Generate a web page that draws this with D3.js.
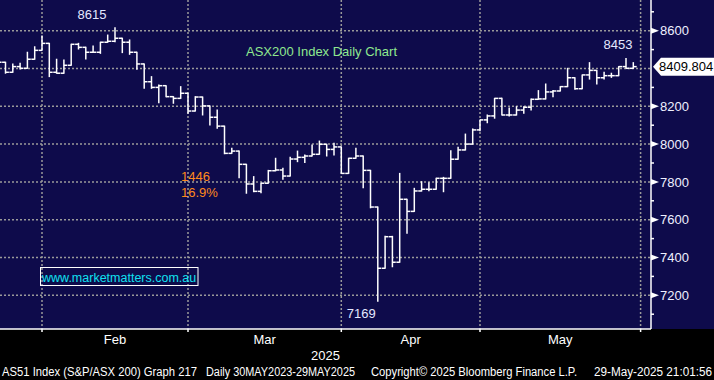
<!DOCTYPE html>
<html><head><meta charset="utf-8">
<script src="https://cdn.jsdelivr.net/npm/d3@7/dist/d3.min.js"></script>
<style>html,body{margin:0;padding:0;background:#000;} svg{display:block}</style>
</head><body><svg id="c" width="714" height="380"></svg>
<script>
// ---- data ----
const dates = ["2025-01-22","2025-01-23","2025-01-24","2025-01-28","2025-01-29","2025-01-30","2025-01-31",
"2025-02-03","2025-02-04","2025-02-05","2025-02-06","2025-02-07","2025-02-10","2025-02-11","2025-02-12","2025-02-13","2025-02-14",
"2025-02-17","2025-02-18","2025-02-19","2025-02-20","2025-02-21","2025-02-24","2025-02-25","2025-02-26","2025-02-27","2025-02-28",
"2025-03-03","2025-03-04","2025-03-05","2025-03-06","2025-03-07","2025-03-10","2025-03-11","2025-03-12","2025-03-13","2025-03-14",
"2025-03-17","2025-03-18","2025-03-19","2025-03-20","2025-03-21","2025-03-24","2025-03-25","2025-03-26","2025-03-27","2025-03-28","2025-03-31",
"2025-04-01","2025-04-02","2025-04-03","2025-04-04","2025-04-07","2025-04-08","2025-04-09","2025-04-10","2025-04-11",
"2025-04-14","2025-04-15","2025-04-16","2025-04-17","2025-04-22","2025-04-23","2025-04-24","2025-04-28","2025-04-29","2025-04-30",
"2025-05-01","2025-05-02","2025-05-05","2025-05-06","2025-05-07","2025-05-08","2025-05-09","2025-05-12","2025-05-13","2025-05-14",
"2025-05-15","2025-05-16","2025-05-19","2025-05-20","2025-05-21","2025-05-22","2025-05-23","2025-05-26","2025-05-27","2025-05-28","2025-05-29"];
const open  = [8433,8433,8380,8410,8401,8449,8496, 8533,8380,8375,8417,8528,8512,8486,8486,8539,8544, 8560,8539,8486,8424,8330,8300,8309,8251,8242,8269,
 8175,8249,8202,8142,8095,7951,7963,7893,7789,7750, 7793,7859,7863,7831,7921,7930,7937,7946,7999,7972,7985,
 7845,7925,7937,7861,7667,7343,7510,7375,7708, 7644,7752,7761,7761,7819,7819,7920,7969,8000,8075,
 8128,8149,8242,8154,8154,8180,8195,8237,8239,8276, 8281,8304,8351,8293,8366,8390,8351,8362,8362,8410,8401];
const high  = [8440,8433,8424,8428,8486,8515,8572, 8533,8449,8445,8528,8533,8512,8519,8539,8577,8615, 8560,8551,8486,8424,8357,8313,8309,8251,8304,8269,
 8251,8249,8202,8180,8095,7978,7963,7893,7828,7793, 7861,7925,7872,7930,7963,7942,7995,8016,7999,8004,7985,
 7925,7978,7937,7861,7667,7512,7512,7845,7708, 7766,7801,7796,7819,7824,7965,7983,8053,8080,8128,
 8154,8242,8242,8191,8198,8198,8239,8283,8318,8283, 8304,8401,8351,8366,8431,8390,8380,8375,8410,8453,8431];
const low   = [8425,8375,8380,8397,8401,8449,8496, 8357,8375,8375,8417,8503,8450,8486,8480,8539,8542, 8484,8475,8396,8295,8295,8219,8251,8216,8242,8163,
 8175,8154,8101,8084,7949,7951,7822,7740,7748,7743, 7793,7859,7814,7831,7907,7902,7937,7946,7937,7942,7845,
 7845,7925,7769,7663,7169,7343,7351,7375,7528, 7644,7752,7753,7761,7748,7819,7920,7969,8000,8071,
 8113,8137,8154,8149,8154,8163,8180,8237,8239,8251, 8281,8304,8290,8293,8344,8318,8344,8353,8362,8401,8401];
const close = [8433,8380,8410,8401,8449,8496,8533, 8380,8375,8417,8528,8512,8486,8486,8539,8544,8560, 8539,8486,8424,8330,8300,8309,8251,8242,8269,8175,
 8249,8202,8142,8095,7951,7963,7893,7789,7750,7793, 7859,7863,7831,7921,7930,7937,7946,7999,7972,7985,7845,
 7925,7937,7861,7667,7343,7510,7375,7708,7644, 7752,7761,7761,7819,7819,7920,7969,8000,8075,8128,
 8149,8242,8154,8154,8180,8195,8237,8239,8276,8281, 8304,8351,8293,8366,8390,8351,8362,8362,8410,8401,8409.804];
const yMajorTicks = [7200,7400,7600,7800,8000,8200,8400,8600];
const yMinorTicks = [7100,7300,7500,7700,7900,8100,8300,8500,8700];
const monthNames = ["Feb","Mar","Apr","May"];
const yearLabel = "2025";
const titleText = "ASX200 Index Daily Chart";
const siteText = "www.marketmatters.com.au";
const pctText = "16.9%";
const footer = ["AS51 Index (S&P/ASX 200) Graph 217","Daily 30MAY2023-29MAY2025","Copyright\u00a9 2025 Bloomberg Finance L.P.","29-May-2025 21:01:56"];

// ---- layout ----
const W = 714, H = 380, plotR = 651, plotB = 329;
const FONT = "'Liberation Sans', Arial, sans-serif";
const svg = d3.select("#c");
const bars = dates.map((d,i)=>({d, i, o:open[i], h:high[i], l:low[i], c:close[i]}));

const iJan31 = dates.indexOf("2025-01-31");
const x = d3.scaleLinear().domain([iJan31, dates.length-1]).range([42, 633.3]);
const y = d3.scaleLinear().domain([7021.7, 8762.4]).range([plotB, 0]);

svg.append("rect").attr("width", W).attr("height", H).attr("fill", "#000");
svg.append("rect").attr("width", W).attr("height", plotB).attr("fill", "#0e0b4b");

// month boundaries (last trading day of each month), plus the virtual last one
const bounds = [];
for (let i=0;i<dates.length-1;i++) if (dates[i].slice(5,7)!==dates[i+1].slice(5,7)) bounds.push(i);
bounds.push(dates.length);

const grid = svg.append("g").attr("stroke","#9a9a9a").attr("stroke-width",1.5).attr("stroke-dasharray","2,2");
grid.selectAll("line.h").data(yMajorTicks).join("line")
  .attr("x1",0).attr("x2",plotR).attr("y1",d=>y(d)).attr("y2",d=>y(d));
grid.selectAll("line.v").data(bounds).join("line")
  .attr("x1",d=>x(d)).attr("x2",d=>x(d)).attr("y1",0).attr("y2",plotB);

// clip
svg.append("clipPath").attr("id","clip").append("rect").attr("width",plotR).attr("height",plotB);
const gb = svg.append("g").attr("clip-path","url(#clip)").attr("stroke","#fff").attr("stroke-width",1.5).attr("fill","none");
const tk = 3.4;
const bg = gb.selectAll("g").data(bars).join("g");
bg.append("line").attr("x1",d=>x(d.i)).attr("x2",d=>x(d.i)).attr("y1",d=>y(d.h)-0.5).attr("y2",d=>y(d.l)+0.5);
bg.append("line").attr("x1",d=>x(d.i)-tk).attr("x2",d=>x(d.i)).attr("y1",d=>y(d.o)).attr("y2",d=>y(d.o));
bg.append("line").attr("x1",d=>x(d.i)).attr("x2",d=>x(d.i)+tk).attr("y1",d=>y(d.c)).attr("y2",d=>y(d.c));

// axes lines
svg.append("line").attr("x1",0).attr("x2",plotR).attr("y1",plotB).attr("y2",plotB).attr("stroke","#fff").attr("stroke-width",1.5);
svg.append("line").attr("x1",plotR).attr("x2",plotR).attr("y1",0).attr("y2",plotB).attr("stroke","#fff").attr("stroke-width",1.5);

// bottom ticks
svg.selectAll("line.bt").data(bounds).join("line").attr("class","bt")
  .attr("x1",d=>x(d)).attr("x2",d=>x(d)).attr("y1",plotB).attr("y2",plotB+3).attr("stroke","#fff").attr("stroke-width",1.5);

// month labels
const mids = monthNames.map((m,k)=>({m, xm:(x(bounds[k])+x(bounds[k+1]))/2}));
svg.selectAll("text.mon").data(mids).join("text").attr("class","mon")
  .attr("x",d=>d.xm).attr("y",344).attr("text-anchor","middle").attr("fill","#fff")
  .attr("font-family",FONT).attr("font-size",13).text(d=>d.m);
svg.append("text").attr("x",plotR/2).attr("y",360).attr("text-anchor","middle").attr("fill","#fff")
  .attr("font-family",FONT).attr("font-size",13).text(yearLabel);

// right axis (labels under the last-price tag are hidden, as in the terminal)
const last = close[close.length-1];
const ly = y(last);
const shownTicks = yMajorTicks.filter(t=>Math.abs(y(t)-ly) > 12);
svg.selectAll("line.mt").data(yMinorTicks).join("line")
  .attr("x1",plotR).attr("x2",plotR+3).attr("y1",d=>y(d)).attr("y2",d=>y(d)).attr("stroke","#fff").attr("stroke-width",1.5);
svg.selectAll("path.ar").data(shownTicks).join("path")
  .attr("d",d=>`M${plotR},${y(d)-3}L${plotR+8},${y(d)}L${plotR},${y(d)+3}Z`).attr("fill","#fff");
svg.selectAll("text.yl").data(shownTicks).join("text")
  .attr("x",660).attr("y",d=>y(d)).attr("dy","0.36em").attr("fill","#eef0ff")
  .attr("font-family",FONT).attr("font-size",13).text(d=>d);

// last price label
svg.append("path").attr("d",`M${plotR+2},${ly}L${plotR+10},${ly-9}L${W},${ly-9}L${W},${ly+9}L${plotR+10},${ly+9}Z`)
  .attr("fill","#fff");
svg.append("text").attr("x",659).attr("y",ly).attr("dy","0.36em").attr("fill","#000")
  .attr("font-family",FONT).attr("font-size",13).text(d3.format(".3f")(last));

// annotations
const iMax = d3.maxIndex(high), iMin = d3.minIndex(low);
const txt = (t,xx,yy,col,anchor="middle",fs=13)=>svg.append("text").attr("x",xx).attr("y",yy)
  .attr("text-anchor",anchor).attr("fill",col).attr("font-family",FONT).attr("font-size",fs).text(t);
txt(high[iMax], x(iMax)-23, y(high[iMax])-8.5, "#e4e8ff");
txt(low[iMin], x(iMin)-16.5, y(low[iMin])+16.5, "#e4e8ff");
const iRecent = d3.maxIndex(high.slice(60))+60;
txt(high[iRecent], x(iRecent)-8, y(high[iRecent])-9, "#e4e8ff");
txt(titleText, 246, 56, "#8fe88f", "start");
txt(Math.round(high[iMax]-low[iMin]), 181, 181, "#ff8a1c", "start");
txt(pctText, 181, 197, "#ff8a1c", "start");

// site box
svg.append("rect").attr("x",40.5).attr("y",267.5).attr("width",157.5).attr("height",18)
  .attr("fill","none").attr("stroke","#fff").attr("stroke-width",1);
txt(siteText, 42, 281.5, "#10e0f0", "start", 12.5);

// footer
const fx = [[2,195],[206,149],[371,206],[594,118]];
footer.forEach((t,k)=>svg.append("text").attr("x",fx[k][0]).attr("y",376).attr("fill","#fff")
  .attr("font-family",FONT).attr("font-size",12).attr("textLength",fx[k][1]).attr("lengthAdjust","spacingAndGlyphs").text(t));
</script></body></html>
